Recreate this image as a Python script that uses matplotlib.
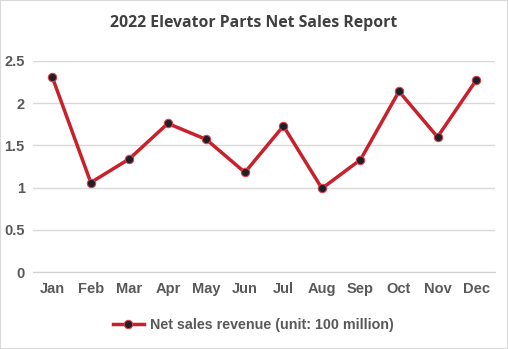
import matplotlib
matplotlib.use("Agg")
import matplotlib.pyplot as plt
from matplotlib.patches import Rectangle

months = ["Jan", "Feb", "Mar", "Apr", "May", "Jun", "Jul", "Aug", "Sep", "Oct", "Nov", "Dec"]
revenue = [2.31, 1.06, 1.34, 1.76, 1.57, 1.18, 1.73, 0.99, 1.33, 2.14, 1.60, 2.27]
yticks = [0, 0.5, 1, 1.5, 2, 2.5]
ytick_labels = ["0", "0.5", "1", "1.5", "2", "2.5"]

fig = plt.figure(figsize=(5.08, 3.49), dpi=100)
ax = fig.add_axes([33/508, 1-272/349, (495.3-33)/508, (272-61)/349])

x = list(range(len(months)))
ax.plot(x, revenue, color="#c9212b", lw=2.5, marker="o", markersize=6,
        markerfacecolor="#1f1f2a", markeredgecolor="#d8404a", markeredgewidth=0.8,
        label="Net sales revenue (unit: 100 million)", zorder=3)

ax.set_xlim(-0.5, len(months)-0.5)
ax.set_ylim(0, 2.5)
ax.set_yticks(yticks)
ax.set_yticklabels(ytick_labels)
ax.set_xticks(x)
ax.set_xticklabels(months)
ax.grid(axis="y", color="#d9d9d9", lw=1)
ax.set_axisbelow(True)
for s in ["top", "right", "left"]:
    ax.spines[s].set_visible(False)
ax.spines["bottom"].set_color("#d0d0d0")
ax.tick_params(length=0, labelsize=10.5, colors="#595959")
ax.tick_params(axis="x", pad=7)
ax.tick_params(axis="y", pad=6)
for lab in ax.get_xticklabels() + ax.get_yticklabels():
    lab.set_fontfamily("Liberation Sans")
    lab.set_fontweight("bold")

fig.text(0.5, 1-23/349, "2022 Elevator Parts Net Sales Report", ha="center", va="center",
         fontsize=11.4, fontweight="bold", color="#404040", family="Open Sans")

leg = fig.legend(loc="center", bbox_to_anchor=(253/508, 1-325/349), frameon=False,
                 prop={"family": "Liberation Sans", "weight": "bold", "size": 10.3},
                 handlelength=2.2, handletextpad=0.4)
for t in leg.get_texts():
    t.set_color("#595959")

fig.patches.append(Rectangle((0, 0), 1, 1, transform=fig.transFigure, fill=False,
                             edgecolor="#d9d9d9", lw=1.5))
fig.savefig("out.png", dpi=100)
